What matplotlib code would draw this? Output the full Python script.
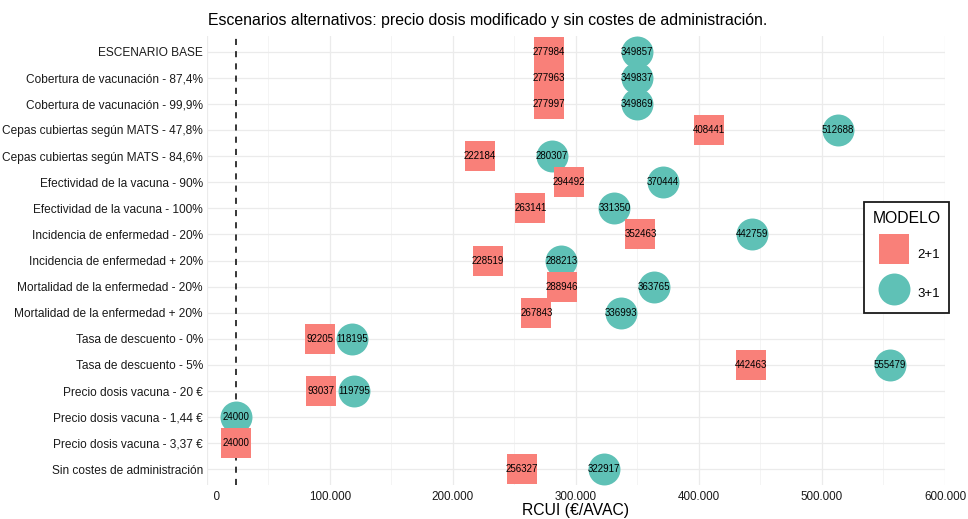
import numpy as np
import matplotlib
matplotlib.use("Agg")
import matplotlib.pyplot as plt
from matplotlib.ticker import FuncFormatter, MultipleLocator

plt.rcParams["font.family"] = ["Liberation Sans", "DejaVu Sans"]

# =========================================================
# Data
# =========================================================
escenarios = [
    "ESCENARIO BASE",
    "Cobertura de vacunación - 87,4%",
    "Cobertura de vacunación - 99,9%",
    "Cepas cubiertas según MATS - 47,8%",
    "Cepas cubiertas según MATS - 84,6%",
    "Efectividad de la vacuna - 90%",
    "Efectividad de la vacuna - 100%",
    "Incidencia de enfermedad - 20%",
    "Incidencia de enfermedad + 20%",
    "Mortalidad de la enfermedad - 20%",
    "Mortalidad de la enfermedad + 20%",
    "Tasa de descuento - 0%",
    "Tasa de descuento - 5%",
    "Precio dosis vacuna - 20 €",
    "Precio dosis vacuna - 1,44 €",
    "Precio dosis vacuna - 3,37 €",
    "Sin costes de administración",
]

rcui_2mas1 = [277984, 277963, 277997, 408441, 222184, 294492, 263141,
              352463, 228519, 288946, 267843, 92205, 442463, 93037,
              np.nan, 24000, 256327]

rcui_3mas1 = [349857, 349837, 349869, 512688, 280307, 370444, 331350,
              442759, 288213, 363765, 336993, 118195, 555479, 119795,
              24000, np.nan, 322917]

umbral = 24000

x_ticks = [0, 100000, 200000, 300000, 400000, 500000, 600000]

COL_2 = "#F98079"
COL_3 = "#5FC1B6"


def fmt_miles(v, pos=None):
    s = f"{int(round(v)):,}".replace(",", ".")
    # R's format() pads to a common width
    return s.rjust(7)


def main():
    fig = plt.figure(figsize=(9.68, 5.19), dpi=100)
    ax = fig.add_axes([206.7 / 968, 1 - 485 / 519,
                       (945 - 206.7) / 968, (485 - 36) / 519])

    n = len(escenarios)
    y = np.arange(n)

    # grid
    ax.set_xlim(0, 600000)
    ax.set_ylim(n - 1 + 0.6, -0.6)
    ax.set_xticks(x_ticks)
    ax.xaxis.set_minor_locator(MultipleLocator(50000))
    ax.xaxis.set_major_formatter(FuncFormatter(fmt_miles))
    ax.set_yticks(y)
    ax.set_yticklabels(escenarios)
    ax.grid(True, which="major", color="#EBEBEB", linewidth=0.9)
    ax.grid(True, which="minor", axis="x", color="#F3F3F3", linewidth=0.6)
    ax.set_axisbelow(True)
    for s in ax.spines.values():
        s.set_visible(False)
    ax.tick_params(which="both", length=0)
    ax.tick_params(axis="y", labelsize=8.6, pad=2.7, colors="#1A1A1A")
    ax.tick_params(axis="x", labelsize=8.4, pad=4, colors="#1A1A1A")

    # threshold
    ax.axvline(umbral, color="black", linestyle=(0, (4, 4)), linewidth=1.1,
               zorder=2)

    ax.scatter(rcui_3mas1, y, s=23 ** 2, marker="o", color=COL_3,
               linewidths=0, zorder=3, label="3+1")
    ax.scatter(rcui_2mas1, y, s=22.3 ** 2, marker="s", color=COL_2,
               linewidths=0, zorder=4, label="2+1")

    for vals in (rcui_2mas1, rcui_3mas1):
        for yi, v in zip(y, vals):
            if np.isnan(v):
                continue
            ax.text(v, yi, f"{int(v)}", ha="center", va="center",
                    fontsize=7.0, color="black", zorder=5)

    # title and axis label
    fig.text(208 / 968, 1 - 20 / 519,
             "Escenarios alternativos: precio dosis modificado y sin costes de administración.",
             ha="left", va="center", fontsize=11.4)
    ax.set_xlabel("RCUI (€/AVAC)", fontsize=11.3, labelpad=0)

    handles, labels = ax.get_legend_handles_labels()
    order = [1, 0]
    leg = ax.legend([handles[i] for i in order], [labels[i] for i in order],
                    title="MODELO", loc="upper right",
                    bbox_to_anchor=(949 / 968, 1 - 202 / 519),
                    bbox_transform=fig.transFigure,
                    fontsize=9.5, title_fontsize=11.3, alignment="left",
                    frameon=True, fancybox=False, edgecolor="#1A1A1A",
                    framealpha=1, borderpad=0.65, handlelength=3.3,
                    handleheight=2.3, labelspacing=1.26, handletextpad=0.15,
                    borderaxespad=0, scatterpoints=1)
    leg.get_frame().set_linewidth(1.3)

    fig.savefig("out.png", dpi=100, facecolor="white")
    plt.close(fig)


if __name__ == "__main__":
    main()
